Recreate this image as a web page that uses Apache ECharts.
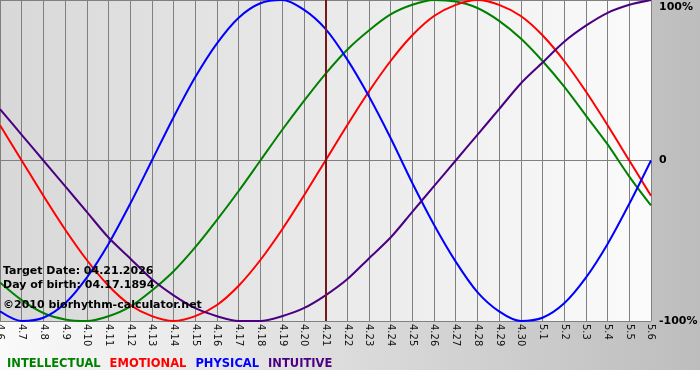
<!DOCTYPE html>
<html>
<head>
<meta charset="utf-8">
<script src="https://cdn.jsdelivr.net/npm/echarts@6/dist/echarts.min.js"></script>
<style>
  html, body { margin: 0; padding: 0; background: #fff; }
  #chart { width: 700px; height: 380px; }
</style>
</head>
<body>
<div id="chart"></div>
<script>
// days shown on the x axis (month.day)
const days = ['4.6', '4.7', '4.8', '4.9', '4.10', '4.11', '4.12', '4.13', '4.14', '4.15', '4.16',
  '4.17', '4.18', '4.19', '4.20', '4.21', '4.22', '4.23', '4.24', '4.25', '4.26', '4.27', '4.28',
  '4.29', '4.30', '5.1', '5.2', '5.3', '5.4', '5.5', '5.6'];

// cycle values in percent, one per day
const intellectual = [-76, -87, -95, -99, -100, -97, -91, -81, -69, -54, -37, -19, 0, 19, 37, 54,
  69, 81, 91, 97, 100, 99, 95, 87, 76, 62, 46, 28, 10, -10, -28];
const emotional = [22, 0, -22, -43, -62, -78, -90, -97, -100, -97, -90, -78, -62, -43, -22, 0,
  22, 43, 62, 78, 90, 97, 100, 97, 90, 78, 62, 43, 22, 0, -22];
const physical = [-94, -100, -98, -89, -73, -52, -27, 0, 27, 52, 73, 89, 98, 100, 94, 82,
  63, 40, 14, -14, -40, -63, -82, -94, -100, -98, -89, -73, -52, -27, 0];
const intuitive = [32, 16, 0, -16, -32, -48, -61, -74, -84, -92, -97, -100, -100, -97, -92, -84,
  -74, -61, -48, -32, -16, 0, 16, 32, 48, 61, 74, 84, 92, 97, 100];

const targetDay = '4.21';
const infoLines = ['Target Date: 04.21.2026', 'Day of birth: 04.17.1894', '\u00a92010 biorhythm-calculator.net'];

const FONT = '"DejaVu Sans", Verdana, sans-serif';
const cycles = [
  { name: 'INTELLECTUAL', data: intellectual, color: '#008000' },
  { name: 'EMOTIONAL', data: emotional, color: '#ff0000' },
  { name: 'PHYSICAL', data: physical, color: '#0000ff' },
  { name: 'INTUITIVE', data: intuitive, color: '#4b0082' },
];

const chart = echarts.init(document.getElementById('chart'));

const lin = (a, b) => ({ type: 'linear', x: 0, y: 0, x2: 1, y2: 0,
  colorStops: [{ offset: 0, color: a }, { offset: 1, color: b }] });

chart.setOption({
  animation: false,
  backgroundColor: '#fff',
  textStyle: { fontFamily: FONT },
  grid: {
    left: 0, right: 49, top: 0, bottom: 59,
    show: true, borderWidth: 0,
    backgroundColor: lin('#d8d8d8', '#fbfbfb'),
    outerBoundsMode: 'none',
  },
  legend: {
    left: -3, top: 352,
    icon: 'none', itemWidth: 0, itemGap: 4,
    textStyle: { fontFamily: FONT, fontSize: 11.5, fontWeight: 'bold' },
    data: cycles.map(c => ({ name: c.name, textStyle: { color: c.color } })),
  },
  graphic: [
    // outer grey band behind the plot and axis labels, white strip below it
    { type: 'rect', left: 0, top: 0, z: -10, silent: true,
      shape: { width: 700, height: 370 }, style: { fill: lin('#fafafa', '#bdbdbd') } },
    ...infoLines.map((t, i) => ({
      type: 'text', left: 3, top: [266, 280, 300][i], z: 100, silent: true,
      style: { text: t, font: 'bold 11px ' + FONT, fill: '#000' },
    })),
  ],
  xAxis: {
    type: 'category', data: days, boundaryGap: false,
    axisLine: { lineStyle: { color: '#808080' } },
    axisTick: { show: true, length: 2, alignWithLabel: true, lineStyle: { color: '#808080' } },
    axisLabel: { interval: 0, rotate: -90, margin: 3, fontSize: 10, color: '#111', fontFamily: FONT },
    splitLine: { show: true, interval: 0, lineStyle: { color: '#808080', width: 1 } },
  },
  yAxis: {
    type: 'value', position: 'right', min: -100, max: 100, interval: 100,
    axisLine: { show: false }, axisTick: { show: false },
    splitLine: { lineStyle: { color: '#808080', width: 1 } },
    axisLabel: {
      margin: 8, color: '#000', fontSize: 11, fontWeight: 'bold', fontFamily: FONT,
      formatter: v => v === 100 ? '{t|100%}' : (v === 0 ? '0' : v + '%'),
      rich: { t: { fontSize: 11, fontWeight: 'bold', fontFamily: FONT, color: '#000', padding: [15, 0, 0, 0] } },
    },
  },
  series: cycles.map((c, i) => ({
    name: c.name, type: 'line', data: c.data,
    smooth: 0.3, symbol: 'none',
    lineStyle: { width: 2, color: c.color }, itemStyle: { color: c.color },
    markLine: i === 0 ? {
      silent: true, symbol: ['none', 'none'], label: { show: false },
      lineStyle: { color: '#761818', width: 2, type: 'solid' },
      data: [{ xAxis: targetDay }],
    } : undefined,
  })),
});
</script>
</body>
</html>
